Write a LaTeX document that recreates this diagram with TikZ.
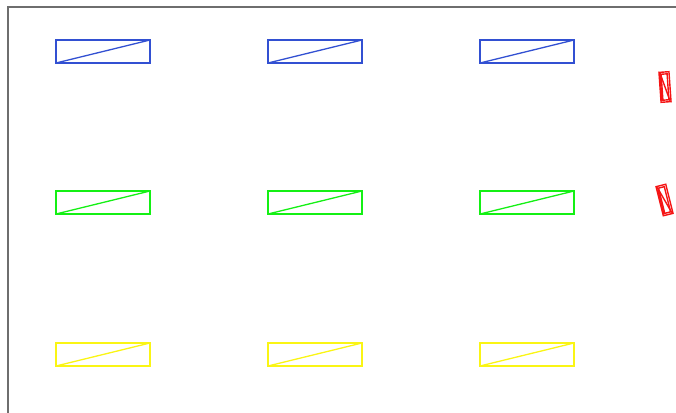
\documentclass[tikz,border=0pt]{standalone}
\definecolor{bl}{RGB}{50,80,210}
\definecolor{gr}{RGB}{20,240,20}
\definecolor{ye}{RGB}{250,245,20}
\definecolor{rd}{RGB}{245,20,20}
\definecolor{fr}{RGB}{110,110,110}
\begin{document}
\begin{tikzpicture}[x=1pt,y=-1pt,
  box/.style={line width=1.3pt},
  redbox/.style={draw=rd,line width=1.4pt}]
\useasboundingbox (0,0) rectangle (676,412);
\draw[fr,line width=2pt] (7.5,430) -- (7.5,7.5) -- (690,7.5);
\foreach \c/\y in {bl/40,gr/191,ye/343}{
  \foreach \x in {56,268,480}{
    \draw[box,draw=\c] (\x,\y) rectangle ++(94,23);
    \draw[box,draw=\c] (\x,\y+23) -- ++(94,-23);
  }
}
\begin{scope}[shift={(665,87)},rotate=4]
  \draw[redbox] (-5,-15) rectangle (5,15);
  \draw[redbox] (-3,-13) rectangle (3,13);
  \draw[redbox] (-4,-14) -- (4,14);
  \draw[redbox] (-4,-12) -- (-4,14);
\end{scope}
\begin{scope}[shift={(664.5,200)},rotate=14]
  \draw[redbox] (-5,-15) rectangle (5,15);
  \draw[redbox] (-3,-13) rectangle (3,13);
  \draw[redbox] (-4,-14) -- (4,14);
  \draw[redbox] (-4,-12) -- (-4,14);
\end{scope}
\end{tikzpicture}
\end{document}
